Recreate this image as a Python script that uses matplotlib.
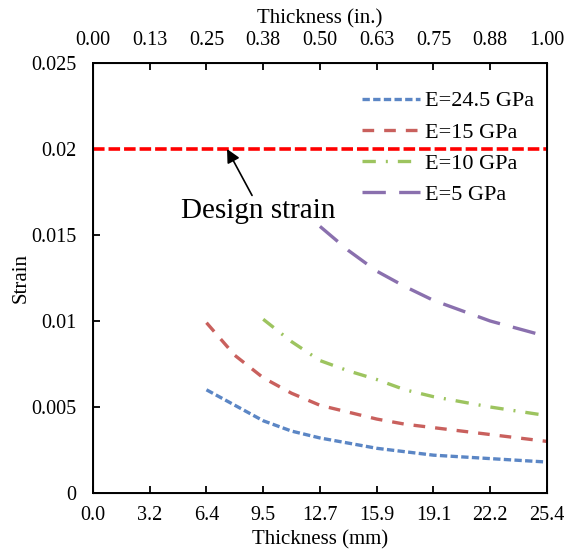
import numpy as np
import matplotlib
matplotlib.use("Agg")
import matplotlib.pyplot as plt

plt.rcParams['font.family'] = ['Liberation Serif', 'DejaVu Serif']

# thickness in mm
t_mm = [6.35, 7.94, 9.525, 11.11, 12.7, 14.29, 15.875, 17.46, 19.05, 22.225, 25.4]
strain_245 = [0.0060, 0.0051, 0.0042, 0.0036, 0.0032, 0.0029, 0.0026, 0.0024, 0.0022, 0.0020, 0.0018]
strain_15 = [0.0099, 0.0080, 0.0067, 0.0058, 0.0051, 0.0047, 0.0043, 0.0040, 0.0038, 0.0034, 0.0030]
t_mm_10 = [9.525, 11.11, 12.7, 14.29, 15.875, 17.46, 19.05, 22.225, 25.4]
strain_10 = [0.0101, 0.0088, 0.0077, 0.0071, 0.0066, 0.0060, 0.0056, 0.0050, 0.0045]
t_mm_5 = [12.7, 14.29, 15.875, 17.46, 19.05, 22.225, 25.4]
strain_5 = [0.0155, 0.0141, 0.0129, 0.0120, 0.0112, 0.0100, 0.0091]
design_strain = 0.02

mm_ticks = [0, 3.175, 6.35, 9.525, 12.7, 15.875, 19.05, 22.225, 25.4]
mm_labels = ["0.0", "3.2", "6.4", "9.5", "12.7", "15.9", "19.1", "22.2", "25.4"]
in_ticks = [0, 0.125, 0.25, 0.375, 0.5, 0.625, 0.75, 0.875, 1.0]
in_labels = ["0.00", "0.13", "0.25", "0.38", "0.50", "0.63", "0.75", "0.88", "1.00"]
y_ticks = [0, 0.005, 0.01, 0.015, 0.02, 0.025]
y_labels = ["0", "0.005", "0.01", "0.015", "0.02", "0.025"]

fig = plt.figure(figsize=(5.65, 5.55), dpi=100)
ax = fig.add_axes([0.1646, 0.1117, 0.8034, 0.7748])

ax.plot(t_mm, strain_245, color='#5B86C5', lw=2.4, dashes=(2.2, 1.0), label='E=24.5 GPa')
ax.plot(t_mm, strain_15, color='#C9605D', lw=2.4, dashes=(3.5, 3.0), label='E=15 GPa')
ax.plot(t_mm_10, strain_10, color='#9DC45F', lw=2.4, dashes=(4.0, 3.0, 0.6, 3.0), label='E=10 GPa')
ax.plot(t_mm_5, strain_5, color='#8A70AE', lw=2.4, dashes=(7.0, 4.0), label='E=5 GPa')
ax.axhline(design_strain, color='#FF0000', lw=2.6, dashes=(3.2, 1.1))

ax.set_xlim(0, 25.4)
ax.set_ylim(0, 0.025)
ax.set_xticks(mm_ticks)
ax.set_xticklabels(mm_labels)
ax.set_yticks(y_ticks)
ax.set_yticklabels(y_labels)
ax.tick_params(direction='in', length=5, width=1.3, labelsize=14.5)
ax.tick_params(axis='x', pad=9)
ax.tick_params(axis='y', pad=12)
ax.set_xlabel('Thickness (mm)', fontsize=15, labelpad=4)
ax.set_ylabel('Strain', fontsize=15, labelpad=0)
for s in ax.spines.values():
    s.set_linewidth(1.4)

ax2 = ax.twiny()
ax2.set_xlim(0, 1.0)
ax2.set_xticks(in_ticks)
ax2.set_xticklabels(in_labels)
ax2.tick_params(direction='in', length=5, width=1.3, labelsize=14.5, pad=9)
ax2.set_xlabel('Thickness (in.)', fontsize=15, labelpad=6)

ax.text(9.23, 0.0164, 'Design strain', fontsize=21, ha='center', va='center')
ax.annotate('', xy=(7.5, design_strain), xytext=(8.9, 0.0173),
            arrowprops=dict(arrowstyle='-|>', color='black', lw=1.2,
                            mutation_scale=20, shrinkA=0, shrinkB=0))

ax.legend(loc='upper left', bbox_to_anchor=(0.5925, 0.935), frameon=False,
          fontsize=16, handlelength=2.6, handletextpad=0.22, labelspacing=0.48,
          borderaxespad=0, borderpad=0)

fig.savefig('out.png', dpi=100)
